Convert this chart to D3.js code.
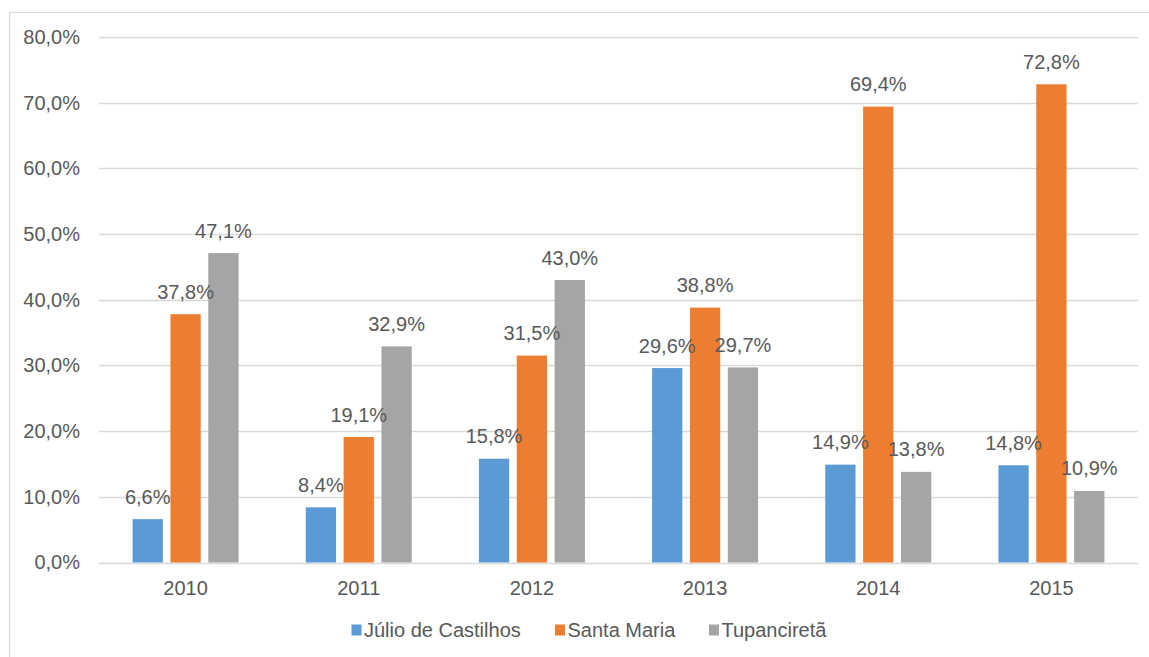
<!DOCTYPE html>
<html>
<head>
<meta charset="utf-8">
<script src="https://cdn.jsdelivr.net/npm/d3@7"></script>
<style>
  html, body { margin: 0; padding: 0; background: #fff; }
  svg text { font-family: "Liberation Sans", Arial, sans-serif; fill: #595959; }
</style>
</head>
<body>
<svg id="chart" width="1149" height="657"></svg>
<script>
// Years on the x axis
const years = ["2010", "2011", "2012", "2013", "2014", "2015"];
// Series names
const seriesNames = ["Júlio de Castilhos", "Santa Maria", "Tupanciretã"];
// Percentages per series, in year order
const julioDeCastilhos = [6.6, 8.4, 15.8, 29.6, 14.9, 14.8];
const santaMaria = [37.8, 19.1, 31.5, 38.8, 69.4, 72.8];
const tupancireta = [47.1, 32.9, 43.0, 29.7, 13.8, 10.9];
// Y axis ticks
const yTicks = [0, 10, 20, 30, 40, 50, 60, 70, 80];

const seriesValues = [julioDeCastilhos, santaMaria, tupancireta];
const colors = ["#5B9BD5", "#ED7D31", "#A5A5A5"];

const svg = d3.select("#chart");
const fmt = v => v.toFixed(1).replace(".", ",") + "%";

// Outer chart frame
svg.append("rect")
  .attr("x", 9.5).attr("y", 12.5)
  .attr("width", 1150).attr("height", 660)
  .attr("fill", "none").attr("stroke", "#D9D9D9").attr("stroke-width", 1.2);

const plot = { left: 99, right: 1138, top: 37, bottom: 562.5 };

const x = d3.scaleBand().domain(years).range([plot.left, plot.right]).paddingInner(0).paddingOuter(0);
const y = d3.scaleLinear().domain([0, 80]).range([plot.bottom, plot.top]);

// Gridlines
svg.append("g").selectAll("line").data(yTicks).join("line")
  .attr("x1", plot.left).attr("x2", plot.right)
  .attr("y1", d => Math.round(y(d)) + 0.5).attr("y2", d => Math.round(y(d)) + 0.5)
  .attr("stroke", "#D9D9D9").attr("stroke-width", 1.3);

// Y axis labels
const yAxis = d3.axisLeft(y).tickValues(yTicks).tickSize(0).tickPadding(0).tickFormat(fmt);
const gy = svg.append("g").attr("transform", `translate(${80},0)`).call(yAxis);
gy.select(".domain").remove();
gy.selectAll("text").attr("font-size", 20).attr("fill", "#595959")
  .style("font-family", "'Liberation Sans', Arial, sans-serif");

// X axis labels
const xAxis = d3.axisBottom(x).tickSize(0).tickPadding(0);
const gx = svg.append("g").attr("transform", `translate(0,${plot.bottom})`).call(xAxis);
gx.select(".domain").remove();
gx.selectAll("text").attr("font-size", 20).attr("fill", "#595959").attr("dy", null).attr("y", 32)
  .style("font-family", "'Liberation Sans', Arial, sans-serif");

// Grouped bars
const groupWidth = 106;
const x1 = d3.scaleBand().domain(d3.range(3)).range([0, groupWidth]).paddingInner(0.2).paddingOuter(0);
const groupOffset = (x.bandwidth() - groupWidth) / 2;

const rows = years.map((yr, i) => seriesValues.map((s, k) => ({ yr, k, v: s[i] })));

const groups = svg.append("g").selectAll("g").data(rows).join("g")
  .attr("transform", (d, i) => `translate(${x(years[i]) + groupOffset},0)`);

groups.selectAll("rect").data(d => d).join("rect")
  .attr("x", d => x1(d.k))
  .attr("width", x1.bandwidth())
  .attr("y", d => y(d.v))
  .attr("height", d => y(0) - y(d.v))
  .attr("fill", d => colors[d.k]);

// Value labels, drawn after all bars
const labelLayer = svg.append("g");
rows.forEach((row, i) => {
  row.forEach(d => {
    labelLayer.append("text")
      .attr("x", x(years[i]) + groupOffset + x1(d.k) + x1.bandwidth() / 2)
      .attr("y", y(d.v) - 15.5)
      .attr("text-anchor", "middle")
      .attr("font-size", 20)
      .text(fmt(d.v));
  });
});

// Legend
const legendX = [351.5, 555, 709];
const legend = svg.append("g").selectAll("g").data(seriesNames).join("g")
  .attr("transform", (d, i) => `translate(${legendX[i]},624.5)`);
legend.append("rect").attr("width", 10).attr("height", 11).attr("fill", (d, i) => colors[i]);
legend.append("text").attr("x", 12.5).attr("y", 12).attr("font-size", 20).text(d => d);
</script>
</body>
</html>
